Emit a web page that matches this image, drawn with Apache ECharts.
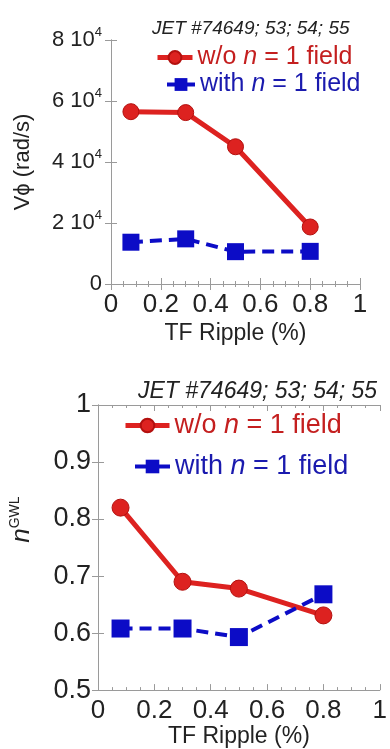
<!DOCTYPE html>
<html>
<head>
<meta charset="utf-8">
<script src="https://cdn.jsdelivr.net/npm/echarts@6/dist/echarts.min.js"></script>
<style>
  html, body { margin: 0; padding: 0; background: #fff; }
  #chart { width: 390px; height: 749px; }
</style>
</head>
<body>
<div id="chart"></div>
<script>
// TF ripple (%) for the four JET shots
const ripple = [0.08, 0.3, 0.5, 0.8];
// toroidal rotation (rad/s)
const vWo = [56500, 56200, 45000, 18700];
const vWith = [13700, 14800, 10600, 10700];
// Greenwald fraction
const nWo = [0.82, 0.69, 0.678, 0.631];
const nWith = [0.608, 0.608, 0.593, 0.668];

const shotTitle = 'JET #74649; 53; 54; 55';
const legendText = {
  vWo: '{r|w/o }{ri|n}{r| = 1 field}',
  vWith: '{b|with }{bi|n}{b| = 1 field}',
  nWo: '{r|w/o }{ri|n}{r| = 1 field}',
  nWith: '{b|with }{bi|n}{b| = 1 field}'
};

const RED = '#dd2220';
const RED_EDGE = '#b3100e';
const BLUE = '#0c0cc6';
const RED_TXT = '#c41f1f';
const BLUE_TXT = '#1a1aae';
const AXIS = '#9a9a9a';
const FONT = 'Liberation Sans, Arial, sans-serif';

function legendRich(size) {
  return {
    r: { color: RED_TXT, fontSize: size, fontFamily: FONT },
    ri: { color: RED_TXT, fontSize: size, fontFamily: FONT, fontStyle: 'italic' },
    b: { color: BLUE_TXT, fontSize: size, fontFamily: FONT },
    bi: { color: BLUE_TXT, fontSize: size, fontFamily: FONT, fontStyle: 'italic' }
  };
}

function legendItem(name, left, top, w, h, size, lineW) {
  return {
    data: [name], left: left, top: top, padding: 0,
    itemWidth: w, itemHeight: h,
    lineStyle: { width: lineW, type: 'solid' },
    formatter: n => legendText[n],
    textStyle: { rich: legendRich(size) }
  };
}

function xAxisPair(gi, size, gap) {
  const base = {
    gridIndex: gi, type: 'value', min: 0, max: 1, interval: 0.2,
    axisLine: { lineStyle: { color: AXIS, width: 1 } },
    axisTick: { inside: true, length: 6, lineStyle: { color: AXIS } },
    minorTick: { show: true, splitNumber: 4, length: 3, lineStyle: { color: AXIS } },
    splitLine: { show: false }
  };
  return [
    Object.assign({}, base, {
      position: 'bottom',
      name: 'TF Ripple (%)', nameLocation: 'middle', nameGap: gap,
      nameTextStyle: { fontSize: size - 3, fontFamily: FONT, color: '#222' },
      axisLabel: { fontSize: size, fontFamily: FONT, color: '#222', margin: 8 }
    }),
    Object.assign({}, base, { position: 'top', axisLabel: { show: false } })
  ];
}

const chart = echarts.init(document.getElementById('chart'));

const xs = xAxisPair(0, 26, 38).concat(xAxisPair(1, 26, 30));

const option = {
  animation: false,
  backgroundColor: '#fff',
  title: [
    { text: shotTitle, left: 147, top: 14,
      textStyle: { fontSize: 19, fontStyle: 'italic', fontWeight: 'normal', fontFamily: FONT, color: '#222' } },
    { text: shotTitle, left: 133, top: 375,
      textStyle: { fontSize: 23, fontStyle: 'italic', fontWeight: 'normal', fontFamily: FONT, color: '#222' } }
  ],
  legend: [
    legendItem('vWo', 155, 45, 35, 16, 25, 5),
    legendItem('vWith', 165, 72, 28, 16, 25, 4),
    legendItem('nWo', 123, 412, 44, 17, 27, 5),
    legendItem('nWith', 133, 453, 35, 17, 27, 4)
  ],
  grid: [
    { left: 111, top: 40, width: 249, height: 244 },
    { left: 95, top: 405, width: 286, height: 286 }
  ],
  xAxis: xs,
  yAxis: [
    {
      gridIndex: 0, type: 'value', min: 0, max: 80000, interval: 20000, position: 'left',
      name: 'V\u03D5 (rad/s)', nameLocation: 'middle', nameGap: 77,
      nameTextStyle: { fontSize: 22, fontFamily: FONT, color: '#222' },
      axisLine: { show: true, lineStyle: { color: AXIS } },
      axisTick: { show: true, inside: true, length: 6, lineStyle: { color: AXIS } },
      splitLine: { show: false },
      axisLabel: {
        margin: 9,
        formatter: v => v === 0 ? '{a|0}' : '{a|' + (v / 10000) + ' 10}{s|4}',
        rich: {
          a: { fontSize: 22, fontFamily: FONT, color: '#222', lineHeight: 28 },
          s: { fontSize: 13, fontFamily: FONT, color: '#222', lineHeight: 14, verticalAlign: 'top' }
        }
      }
    },
    {
      gridIndex: 0, type: 'value', min: 0, max: 80000, interval: 20000, position: 'right',
      axisLine: { show: true, lineStyle: { color: AXIS } },
      axisTick: { show: true, inside: true, length: 6, lineStyle: { color: AXIS } },
      splitLine: { show: false }, axisLabel: { show: false }
    },
    {
      gridIndex: 1, type: 'value', min: 0.5, max: 1, interval: 0.1, position: 'left',
      name: '{i|n}{s|GWL}', nameLocation: 'middle', nameGap: 62,
      nameTextStyle: {
        padding: [0, 0, 0, 56],
        rich: {
          i: { fontSize: 26, fontStyle: 'italic', fontFamily: FONT, color: '#222', lineHeight: 28 },
          s: { fontSize: 14, fontFamily: FONT, color: '#222', lineHeight: 14, verticalAlign: 'top' }
        }
      },
      axisLine: { show: true, lineStyle: { color: AXIS } },
      axisTick: { show: true, inside: true, length: 6, lineStyle: { color: AXIS } },
      splitLine: { show: false },
      axisLabel: { fontSize: 27, fontFamily: FONT, color: '#222', margin: 7,
        formatter: v => v === 1 ? '1' : v.toFixed(1) }
    },
    {
      gridIndex: 1, type: 'value', min: 0.5, max: 1, interval: 0.1, position: 'right',
      axisLine: { show: true, lineStyle: { color: AXIS } },
      axisTick: { show: true, inside: true, length: 6, lineStyle: { color: AXIS } },
      splitLine: { show: false }, axisLabel: { show: false }
    }
  ],
  series: [
    {
      name: 'vWo', type: 'line', xAxisIndex: 0, yAxisIndex: 0,
      data: ripple.map((x, i) => [x, vWo[i]]),
      symbol: 'circle', symbolSize: 16,
      lineStyle: { color: RED, width: 5 },
      itemStyle: { color: RED, borderColor: RED_EDGE, borderWidth: 1 }
    },
    {
      name: 'vWith', type: 'line', xAxisIndex: 0, yAxisIndex: 0,
      data: ripple.map((x, i) => [x, vWith[i]]),
      symbol: 'rect', symbolSize: 17,
      lineStyle: { color: BLUE, width: 4, type: [12, 7] },
      itemStyle: { color: BLUE }
    },
    {
      name: 'nWo', type: 'line', xAxisIndex: 2, yAxisIndex: 2,
      data: ripple.map((x, i) => [x, nWo[i]]),
      symbol: 'circle', symbolSize: 17,
      lineStyle: { color: RED, width: 5 },
      itemStyle: { color: RED, borderColor: RED_EDGE, borderWidth: 1 }
    },
    {
      name: 'nWith', type: 'line', xAxisIndex: 2, yAxisIndex: 2,
      data: ripple.map((x, i) => [x, nWith[i]]),
      symbol: 'rect', symbolSize: 18,
      lineStyle: { color: BLUE, width: 4, type: [12, 7] },
      itemStyle: { color: BLUE }
    }
  ]
};

chart.setOption(option);
</script>
</body>
</html>
